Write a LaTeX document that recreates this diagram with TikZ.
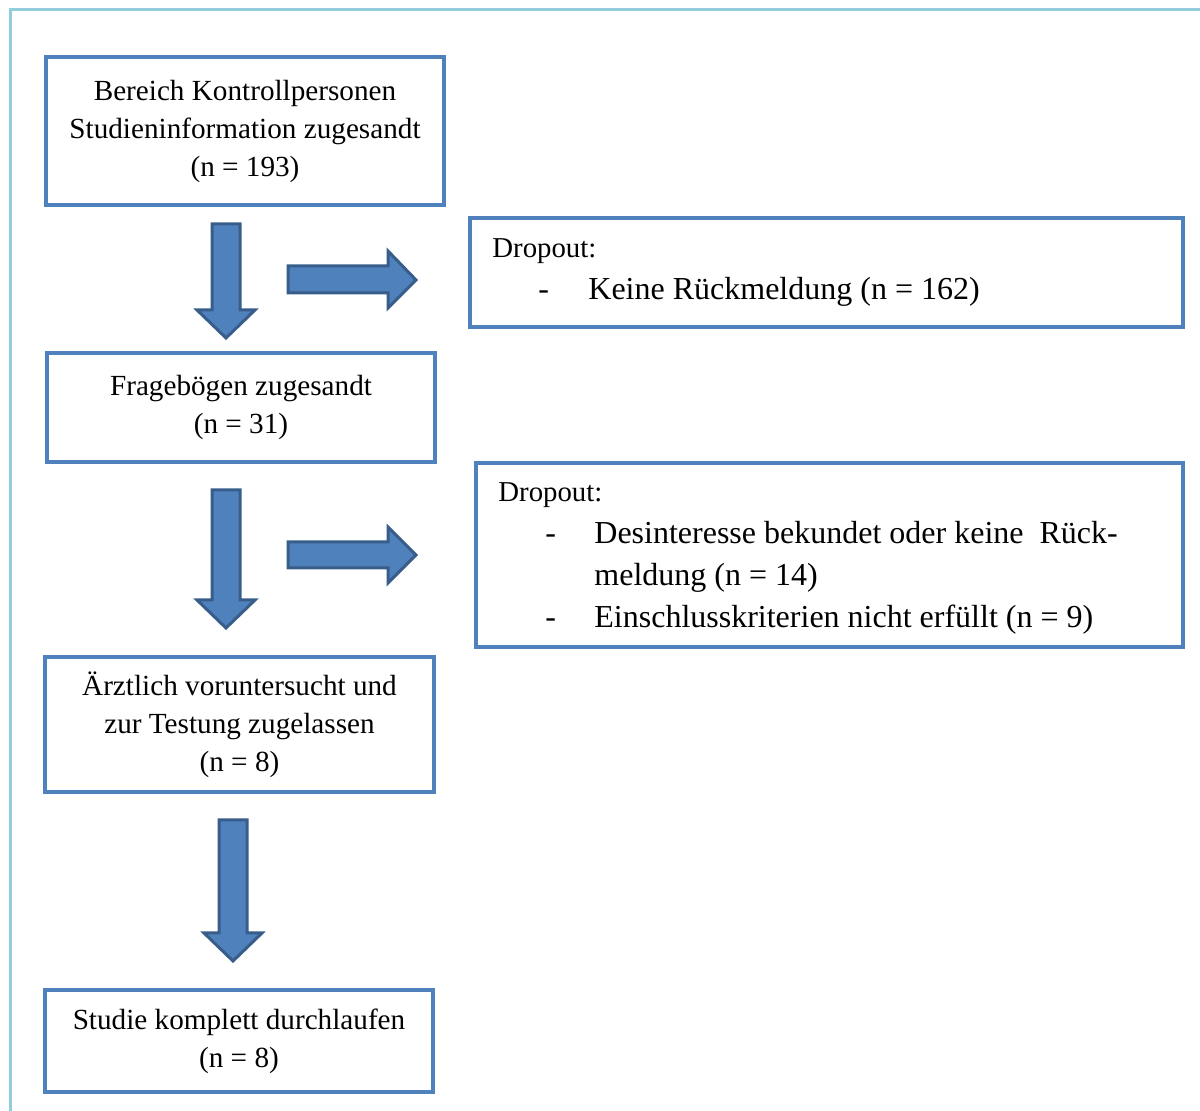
\documentclass[tikz,border=0pt]{standalone}
\usepackage{fontspec}
\setmainfont{Liberation Serif}
\definecolor{boxblue}{RGB}{79,129,189}
\definecolor{arrowedge}{RGB}{56,93,138}
\definecolor{framecyan}{RGB}{146,205,220}
\tikzset{
  flowbox/.style = {draw = boxblue, line width = 2pt, rectangle, inner sep = 0pt,
                    align = center, font = \fontsize{14.6}{19}\selectfont},
  dropbox/.style = {draw = boxblue, line width = 2pt, rectangle, inner sep = 0pt},
  droptext/.style = {inner sep = 0pt, anchor = base west, font = \fontsize{14.4}{19}\selectfont},
  itemtext/.style = {inner sep = 0pt, anchor = base west, font = \fontsize{16}{21}\selectfont},
  blockarrow/.style = {fill = boxblue, draw = arrowedge, line width = 1.5pt, line join = miter}
}
\begin{document}
\begin{tikzpicture}[x = 0.5pt, y = -0.5pt]

\useasboundingbox (0, 0) rectangle (1200, 1111);
\draw[color = framecyan, line width = 1.5pt] (1200, 10) -- (10, 10) -- (10, 1111);

\node[flowbox, minimum width = 199pt, minimum height = 74pt] (kontakt) at (245, 131)
  {Bereich Kontrollpersonen\\Studieninformation zugesandt\\(n = 193)};
\node[flowbox, minimum width = 194pt, minimum height = 54.5pt] (frageboegen) at (241, 407.5)
  {Fragebögen zugesandt\\(n = 31)};
\node[flowbox, minimum width = 194.5pt, minimum height = 67.5pt] (zugelassen) at (239.5, 724.5)
  {Ärztlich voruntersucht und\\zur Testung zugelassen\\(n = 8)};
\node[flowbox, minimum width = 194pt, minimum height = 51pt] (komplett) at (239, 1041)
  {Studie komplett durchlaufen\\(n = 8)};

\node[dropbox, minimum width = 356.5pt, minimum height = 54.5pt] (dropeins) at (826.5, 272.5) {};
\node[droptext] (dropeinshead) at (492, 258) {Dropout:};
\node[itemtext] (dropeinsdash) at (538, 300) {-};
\node[itemtext] (dropeinsitem) at (588, 300) {Keine Rückmeldung (n = 162)};

\node[dropbox, minimum width = 353.5pt, minimum height = 92pt] (dropzwei) at (829.5, 555) {};
\node[droptext] (dropzweihead) at (498, 502) {Dropout:};
\node[itemtext] (dropzweidasha) at (545, 544) {-};
\node[itemtext] (dropzweiitema) at (594, 544) {Desinteresse bekundet oder keine\ \ Rück-};
\node[itemtext] (dropzweiitemb) at (594, 586) {meldung (n = 14)};
\node[itemtext] (dropzweidashb) at (545, 628) {-};
\node[itemtext] (dropzweiitemc) at (594, 628) {Einschlusskriterien nicht erfüllt (n = 9)};

\draw[blockarrow] (212, 224) -- (240, 224) -- (240, 310) -- (255, 310) -- (226, 338) -- (197, 310) -- (212, 310) -- cycle;
\draw[blockarrow] (212, 490) -- (240, 490) -- (240, 600) -- (255, 600) -- (226, 628) -- (197, 600) -- (212, 600) -- cycle;
\draw[blockarrow] (219, 820) -- (247, 820) -- (247, 933) -- (262, 933) -- (233, 961) -- (204, 933) -- (219, 933) -- cycle;

\draw[blockarrow] (288, 266) -- (388, 266) -- (388, 251) -- (416, 280) -- (388, 308) -- (388, 293) -- (288, 293) -- cycle;
\draw[blockarrow] (288, 542) -- (388, 542) -- (388, 527) -- (416, 555) -- (388, 583) -- (388, 568) -- (288, 568) -- cycle;

\end{tikzpicture}
\end{document}
